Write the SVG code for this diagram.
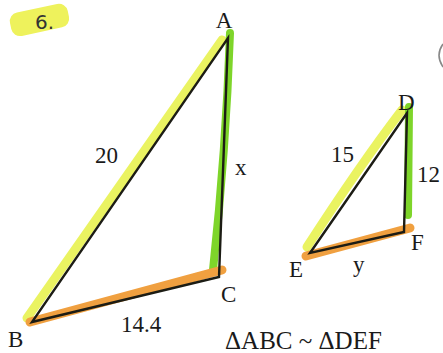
<svg xmlns="http://www.w3.org/2000/svg" width="443" height="353" viewBox="0 0 443 353">
<style>
.lbl{font-family:"Liberation Serif","Times New Roman",serif;font-size:23px;fill:#1a1a1a}
.cap{font-size:25px}
.yel{fill:none;stroke:#e8f250;stroke-width:9;stroke-linecap:round;opacity:0.9}
.grn{fill:none;stroke:#7ed52a;stroke-width:8;stroke-linecap:round}
.org{fill:none;stroke:#f0a040;stroke-width:9;stroke-linecap:round}
.ink{fill:none;stroke:#1c1c14;stroke-width:2.4;stroke-linejoin:miter;stroke-linecap:round}
</style>
<rect width="443" height="353" fill="#ffffff"/>
<g id="title">
<rect x="10" y="8" width="59" height="24" rx="9" fill="#eef25c" transform="rotate(-12 39 20)"/>
<text x="35" y="29" font-family="'DejaVu Sans','Liberation Sans',sans-serif" font-size="20" fill="#333">6.</text>
</g>
<path d="M443,44 Q435,55 443,67" fill="none" stroke="#888" stroke-width="1.6"/>
<g id="triangle-ABC">
<path class="yel" d="M222,40 L27,318"/>
<path class="grn" d="M230,33 Q226,150 213,270"/>
<path class="org" d="M30,322 L222,270"/>
<path class="ink" d="M228,38 L219,277 L32,322 Z"/>
</g>
<g id="triangle-DEF">
<path class="yel" d="M402,110 Q360,165 307,247"/>
<path class="grn" d="M409,107 L408,215"/>
<path class="org" d="M306,256 L410,228"/>
<path class="ink" d="M407,113 L404,232 L310,253 Z"/>
</g>
<g id="labels">
<text class="lbl" x="224" y="28" text-anchor="middle">A</text>
<text class="lbl" x="95" y="163">20</text>
<text class="lbl" x="235" y="175">x</text>
<text class="lbl" x="221" y="302">C</text>
<text class="lbl" x="8" y="347">B</text>
<text class="lbl" x="121" y="332">14.4</text>
<text class="lbl" x="398" y="110">D</text>
<text class="lbl" x="331" y="162">15</text>
<text class="lbl" x="417" y="182">12</text>
<text class="lbl" x="411" y="250">F</text>
<text class="lbl" x="289" y="277">E</text>
<text class="lbl" x="353" y="272">y</text>
</g>
<g id="caption">
<text class="lbl cap" x="225" y="349">ΔABC ~ ΔDEF</text>
</g>
</svg>
